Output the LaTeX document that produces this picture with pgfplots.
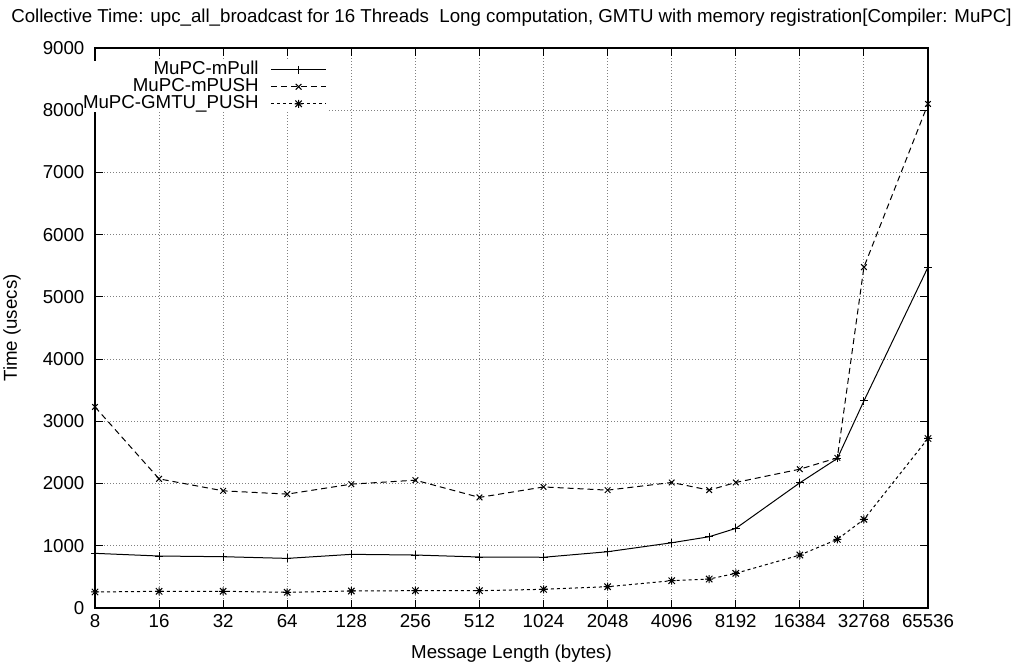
\documentclass[border=0pt]{standalone}
\usepackage{fontspec}
\setmainfont{Liberation Sans}
\usepackage{pgfplots}
\pgfplotsset{compat=1.18}

% gnuplot style asterisk: a plus and a cross on top of each other
\pgfdeclareplotmark{gpstar}{%
  \pgfpathmoveto{\pgfqpoint{-\pgfplotmarksize}{0pt}}%
  \pgfpathlineto{\pgfqpoint{\pgfplotmarksize}{0pt}}%
  \pgfpathmoveto{\pgfqpoint{0pt}{-\pgfplotmarksize}}%
  \pgfpathlineto{\pgfqpoint{0pt}{\pgfplotmarksize}}%
  \pgfpathmoveto{\pgfqpoint{-0.8\pgfplotmarksize}{-0.8\pgfplotmarksize}}%
  \pgfpathlineto{\pgfqpoint{0.8\pgfplotmarksize}{0.8\pgfplotmarksize}}%
  \pgfpathmoveto{\pgfqpoint{-0.8\pgfplotmarksize}{0.8\pgfplotmarksize}}%
  \pgfpathlineto{\pgfqpoint{0.8\pgfplotmarksize}{-0.8\pgfplotmarksize}}%
  \pgfusepathqstroke}

\begin{document}
\fontsize{9.35}{10}\selectfont
\begin{tikzpicture}
\begin{axis}[
    name=ax,
    scale only axis,
    width=416.5pt, height=280pt,
    xmode=log, log basis x=2,
    xmin=8, xmax=65536,
    ymin=0, ymax=9000,
    xtick={8,16,32,64,128,256,512,1024,2048,4096,8192,16384,32768,65536},
    xticklabels={8,16,32,64,128,256,512,1024,2048,4096,8192,16384,32768,65536},
    ytick={0,1000,...,9000},
    yticklabel style={/pgf/number format/1000 sep={}, xshift=-2pt},
    /pgf/number format/assume math mode=true,
    tick align=inside,
    major tick length=4pt,
    tick style={black, line width=0.5pt},
    axis line style={line width=1pt},
    grid=major,
    major grid style={gray, line width=0.5pt, dash pattern=on 0.5pt off 1pt},
    title={Collective Time: upc\_all\_broadcast for 16 Threads\ \ Long computation, GMTU with memory registration[Compiler: MuPC]},
    title style={at={(axis description cs:0.5,1)}, anchor=center, yshift=9pt, inner sep=0pt},
    xlabel={Message Length (bytes)},
    xlabel style={at={(axis description cs:0.5,0)}, anchor=center, yshift=-23pt, inner sep=0pt},
    ylabel={Time (usecs)},
    ylabel style={at={(axis description cs:-0.0996,0.5)}, anchor=center, inner sep=0pt},
    legend plot pos=right,
    legend cell align=right,
    legend style={at={(0.2785,0.977)}, anchor=north east, draw=none, fill=white,
        inner sep=0pt, column sep=6pt, row sep=0pt,
        nodes={inner sep=0pt, text height=6.5pt, text depth=2pt}},
    legend image code/.code={\draw[mark repeat=2, mark phase=2, #1]
        plot coordinates {(0pt,0pt) (13.75pt,0pt) (27.5pt,0pt)};},
    mark size=2pt,
]
\addplot[black, line width=0.5pt, mark=+, mark options={solid}] coordinates {
(8,878)(16,835)(32,824)(64,797)(128,862)(256,851)(512,819)(1024,815)
(2048,904)(4096,1048)(6144,1145)(8192,1279)(16384,2012)(24576,2403)
(32768,3328)(65536,5478)
};
\addlegendentry{MuPC-mPull}

\addplot[black, line width=0.5pt, dash pattern=on 3pt off 2pt, mark=x, mark options={solid}] coordinates {
(8,3231)(16,2075)(32,1883)(64,1830)(128,1990)(256,2054)(512,1777)(1024,1945)
(2048,1894)(4096,2017)(6144,1894)(8192,2017)(16384,2231)(24576,2413)
(32768,5478)(65536,8101)
};
\addlegendentry{MuPC-mPUSH}

\addplot[black, line width=0.5pt, dash pattern=on 1.5pt off 1.5pt, mark=gpstar, mark options={solid}] coordinates {
(8,257)(16,268)(32,268)(64,252)(128,273)(256,278)(512,278)(1024,300)
(2048,342)(4096,438)(6144,465)(8192,557)(16384,851)(24576,1103)
(32768,1424)(65536,2724)
};
\addlegendentry{MuPC-GMTU\_PUSH}
\end{axis}
\path ([xshift=-47.5pt,yshift=-27.5pt]ax.south west) rectangle ([xshift=42pt,yshift=24pt]ax.north east);
\end{tikzpicture}
\end{document}
